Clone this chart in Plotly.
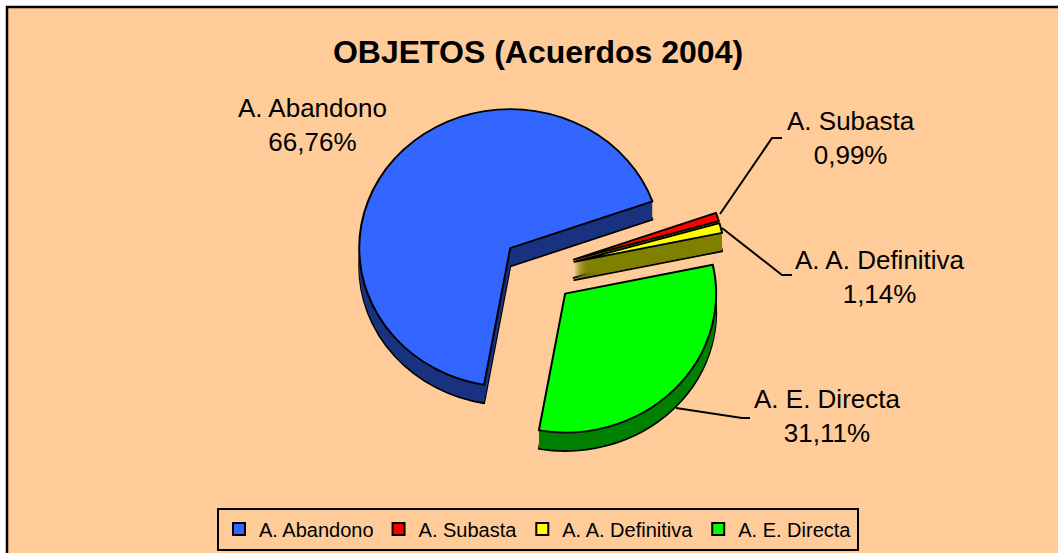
import plotly.graph_objects as go

TITLE = "OBJETOS (Acuerdos 2004)"
categories = ["A. Abandono", "A. Subasta", "A. A. Definitiva", "A. E. Directa"]
values = [66.76, 0.99, 1.14, 31.11]
value_labels = ["66,76%", "0,99%", "1,14%", "31,11%"]
top_colors = ["#3366FF", "#FF0000", "#FFFF00", "#00FF00"]
side_colors = ["#1A3380", "#808000", "#808000", "#008000"]

W, H = 1058, 553
CX, CY = 538.5, 270
AVAIL = 188
DEPTH = 20
PULL = 0.245
SQUASH = 0.92


def px(x):
    return x / W


def py(y):
    return 1 - y / H


def domain(shift):
    return dict(
        x=[px(CX - AVAIL), px(CX + AVAIL)],
        y=[py(CY + shift + AVAIL), py(CY + shift - AVAIL)],
    )


def pie(colors, shift, line_w, legend):
    return go.Pie(
        labels=categories,
        values=values,
        sort=False,
        direction="clockwise",
        rotation=190,
        pull=[PULL] * 4,
        domain=domain(shift),
        marker=dict(colors=colors, line=dict(color="black", width=line_w)),
        textinfo="none",
        hoverinfo="skip",
        showlegend=legend,
    )


fig = go.Figure()
for d in range(DEPTH, 0, -1):
    fig.add_trace(pie(side_colors, d, 2 if d == DEPTH else 0, False))
fig.add_trace(pie(top_colors, 0, 2, True))

shapes = [
    dict(type="rect", xref="paper", yref="paper", x0=px(7), x1=1.02, y0=-0.02, y1=py(7),
         fillcolor="#FFCC99", line=dict(color="black", width=2.5), layer="below"),
]
for pts in [
    [(720, 214), (772, 138), (782, 138)],
    [(722, 228), (782, 275), (792, 275)],
    [(676, 408), (742, 418), (750, 418)],
]:
    path = "M " + " L ".join(f"{px(x)} {py(y)}" for x, y in pts)
    shapes.append(dict(type="path", xref="paper", yref="paper", path=path,
                       line=dict(color="black", width=2), layer="above"))

label_pos = [(312, 125.5), (851, 138), (880, 276.5), (827, 416)]
annotations = [
    dict(text=f"{c}<br>{v}", x=px(x), y=py(y), xref="paper", yref="paper",
         showarrow=False, xanchor="center", yanchor="middle",
         font=dict(family="Liberation Sans, Arial", size=26, color="black"))
    for c, v, (x, y) in zip(categories, value_labels, label_pos)
]

fig.update_layout(
    width=W,
    height=H,
    margin=dict(l=0, r=0, t=0, b=0),
    paper_bgcolor="white",
    font=dict(family="Liberation Sans, Arial", color="black"),
    title=dict(text=f"<b>{TITLE}</b>", x=px(538), xanchor="center", y=py(52), yanchor="middle",
               font=dict(size=32, family="Liberation Sans, Arial", color="black")),
    shapes=shapes,
    annotations=annotations,
    legend=dict(
        orientation="h", x=px(538), xanchor="center", y=py(529), yanchor="middle",
        bgcolor="rgba(0,0,0,0)", bordercolor="black", borderwidth=2,
        font=dict(size=20), itemwidth=30,
    ),
)

post = (
    "document.body.style.margin='0';"
    "document.querySelectorAll('.pielayer').forEach(function(g){"
    f"g.setAttribute('transform','translate(0 {CY}) scale(1 {SQUASH}) translate(0 {-CY})');"
    "});"
)
fig.write_html("out.html", post_script=post, config={"displayModeBar": False})
